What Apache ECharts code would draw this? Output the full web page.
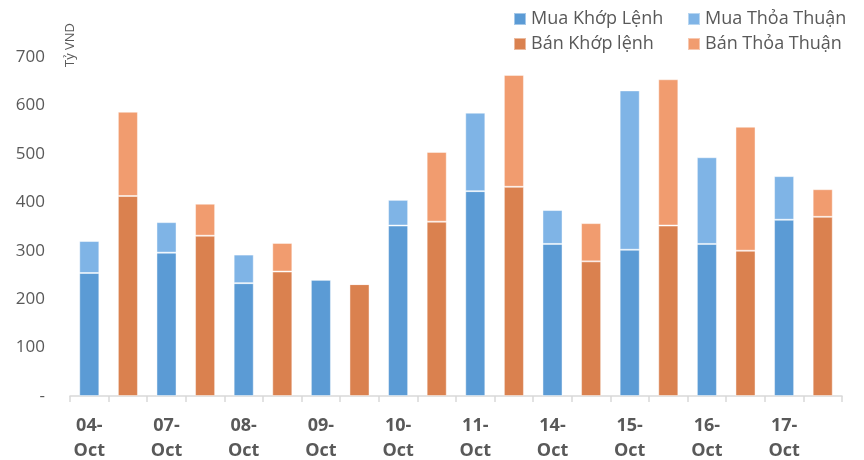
<!DOCTYPE html>
<html>
<head>
<meta charset="utf-8">
<script src="https://cdn.jsdelivr.net/npm/echarts@6/dist/echarts.min.js"></script>
<style>
  html, body { margin: 0; padding: 0; background: #fff; }
  #chart { width: 864px; height: 460px; }
</style>
</head>
<body>
<div id="chart"></div>
<script>
// ngày giao dịch
var days = ['04-Oct', '07-Oct', '08-Oct', '09-Oct', '10-Oct', '11-Oct', '14-Oct', '15-Oct', '16-Oct', '17-Oct'];
// tỷ VND
var muaKhop = [254, 296, 233, 240, 352, 423, 314, 302, 314, 364];
var muaThoaThuan = [66, 63, 59, 0, 53, 162, 70, 329, 179, 90];
var banKhop = [413, 331, 257, 231, 360, 432, 278, 352, 300, 370];
var banThoaThuan = [174, 66, 59, 0, 144, 231, 79, 302, 256, 57];
var yTicks = [0, 100, 200, 300, 400, 500, 600, 700];

// mỗi ngày 2 cột: cột mua rồi cột bán
var categories = [];
var s1 = [], s2 = [], s3 = [], s4 = [];
days.forEach(function (d, i) {
  categories.push(d, d + ' ');
  s1.push(muaKhop[i], '-');
  s2.push(muaThoaThuan[i], '-');
  s3.push('-', banKhop[i]);
  s4.push('-', banThoaThuan[i]);
});

var chart = echarts.init(document.getElementById('chart'));
var font = '"Open Sans", "Noto Sans", sans-serif';
var barStyle = function (c) {
  return { color: c, borderColor: 'rgba(255,255,255,0.45)', borderWidth: 1 };
};
var legendText = { fontSize: 18, color: '#595959', fontFamily: font };

var option = {
  animation: false,
  textStyle: { fontFamily: font },
  grid: { left: 70, right: 22, top: 57, bottom: 64, outerBoundsMode: 'none', containLabel: false },
  legend: [
    {
      left: 513, top: 10, orient: 'vertical', itemGap: 7, padding: 0,
      icon: 'rect', itemWidth: 12, itemHeight: 12,
      textStyle: legendText,
      data: ['Mua Khớp Lệnh', 'Bán Khớp lệnh']
    },
    {
      left: 687, top: 10, orient: 'vertical', itemGap: 7, padding: 0,
      icon: 'rect', itemWidth: 12, itemHeight: 12,
      textStyle: legendText,
      data: ['Mua Thỏa Thuận', 'Bán Thỏa Thuận']
    }
  ],
  graphic: [{
    type: 'text',
    x: 70, y: 67,
    rotation: Math.PI / 2,
    style: {
      text: 'Tỷ VND', fontSize: 13, fill: '#595959', fontFamily: font,
      align: 'left', verticalAlign: 'middle'
    }
  }],
  xAxis: {
    type: 'category',
    data: categories,
    axisLine: { lineStyle: { color: '#d9d9d9', width: 1.5 } },
    axisTick: { show: true, length: 6, lineStyle: { color: '#d9d9d9', width: 1.5 } },
    axisLabel: {
      interval: 0,
      margin: 17,
      color: '#595959',
      fontSize: 18,
      fontWeight: 'bold',
      lineHeight: 25,
      formatter: function (v, i) {
        return i % 2 === 0 ? v.replace('-', '-\n') : '';
      }
    }
  },
  yAxis: {
    type: 'value',
    min: 0, max: 700, interval: 100,
    axisLine: { show: false },
    axisTick: { show: false },
    splitLine: { show: false },
    axisLabel: {
      margin: 25,
      color: '#595959',
      fontSize: 17,
      formatter: function (v) { return v === 0 ? '-' : String(v); }
    }
  },
  series: [
    { name: 'Mua Khớp Lệnh', type: 'bar', stack: 'gd', barWidth: '52%', data: s1, itemStyle: barStyle('#5B9BD5') },
    { name: 'Mua Thỏa Thuận', type: 'bar', stack: 'gd', data: s2, itemStyle: barStyle('#7FB4E6') },
    { name: 'Bán Khớp lệnh', type: 'bar', stack: 'gd', data: s3, itemStyle: barStyle('#DA814F') },
    { name: 'Bán Thỏa Thuận', type: 'bar', stack: 'gd', data: s4, itemStyle: barStyle('#F19C6F') }
  ]
};
chart.setOption(option);
</script>
</body>
</html>
